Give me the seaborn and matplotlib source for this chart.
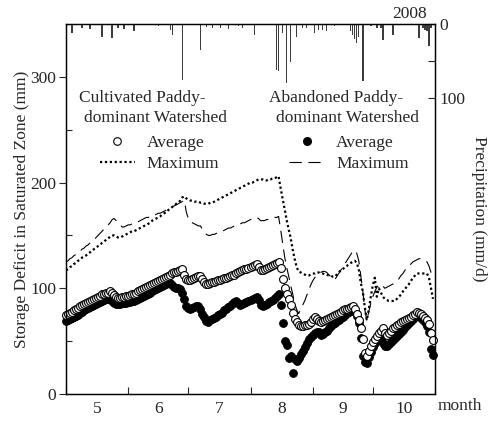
import numpy as np
import pandas as pd
import matplotlib
matplotlib.use("Agg")
import matplotlib.pyplot as plt
import seaborn as sns
from matplotlib.lines import Line2D
from matplotlib.ticker import FixedLocator, FixedFormatter, NullFormatter

# ---------------- data (day 0 = 1 May 2008, daily to 31 Oct) ----------------
cult_avg = [75, 76, 77, 78, 79, 80, 81, 83, 84, 85,
            86, 87, 88, 89, 90, 91, 92, 93, 95, 95,
            96, 96, 97, 96, 94, 92, 91, 91, 92, 92,
            93, 93, 94, 95, 95, 96, 97, 98, 99, 100,
            101, 102, 103, 104, 105, 106, 107, 108, 109, 110,
            111, 112, 113, 114, 115, 115, 116, 117, 118, 113,
            109, 108, 108, 109, 110, 111, 112, 112, 109, 106,
            104, 104, 105, 106, 106, 107, 108, 108, 109, 110,
            110, 111, 112, 113, 113, 114, 115, 116, 117, 118,
            118, 119, 120, 121, 122, 123, 120, 117, 117, 118,
            119, 120, 121, 122, 123, 124, 125, 119, 109, 100,
            95, 90, 84, 77, 71, 68, 65, 64, 64, 65,
            65, 66, 68, 71, 73, 71, 69, 68, 69, 70,
            71, 72, 73, 74, 75, 76, 77, 78, 79, 80,
            80, 81, 82, 83, 80, 76, 70, 62, 52, 39,
            36, 41, 45, 49, 52, 55, 58, 60, 62, 58,
            56, 58, 60, 62, 63, 65, 66, 68, 69, 70,
            71, 72, 73, 75, 76, 78, 77, 76, 74, 72,
            70, 66, 58, 51]

aban_avg = [69, 70, 71, 72, 73, 74, 75, 77, 78, 79,
            80, 81, 82, 83, 84, 85, 86, 87, 88, 89,
            90, 90, 90, 88, 86, 85, 85, 85, 86, 86,
            86, 87, 87, 88, 88, 89, 90, 91, 92, 93,
            94, 95, 96, 97, 98, 99, 100, 101, 102, 103,
            104, 106, 105, 103, 101, 100, 100, 99, 96, 90,
            83, 81, 80, 81, 82, 83, 83, 80, 76, 73,
            69, 68, 70, 71, 72, 73, 75, 76, 77, 79,
            80, 82, 83, 85, 87, 88, 86, 84, 85, 86,
            87, 88, 89, 90, 91, 92, 89, 84, 83, 84,
            85, 87, 88, 89, 91, 93, 95, 84, 67, 50,
            46, 34, 36, 20, 33, 31, 34, 38, 41, 44,
            48, 52, 54, 56, 58, 59, 59, 56, 57, 59,
            60, 62, 64, 66, 67, 69, 70, 72, 73, 75,
            77, 78, 80, 81, 78, 74, 67, 53, 36, 30,
            29, 35, 40, 44, 48, 52, 56, 52, 48, 45,
            45, 47, 49, 51, 53, 55, 57, 59, 61, 63,
            65, 67, 69, 71, 73, 75, 74, 72, 70, 68,
            64, 59, 43, 37]

cult_max = [117, 118, 120, 121, 123, 124, 126, 127, 129, 130,
            131, 133, 134, 136, 137, 138, 140, 141, 143, 144,
            146, 147, 149, 150, 150, 149, 148, 148, 149, 150,
            151, 152, 153, 154, 154, 155, 156, 157, 158, 159,
            160, 161, 162, 164, 165, 166, 167, 168, 170, 171,
            172, 174, 175, 177, 178, 180, 181, 183, 186, 187,
            185, 184, 183, 183, 182, 182, 182, 181, 181, 180,
            180, 180, 181, 181, 182, 183, 184, 185, 186, 187,
            188, 189, 190, 191, 192, 193, 194, 195, 196, 197,
            198, 199, 200, 200, 201, 202, 203, 203, 203, 202,
            202, 203, 203, 204, 204, 205, 206, 195, 185, 175,
            165, 156, 148, 137, 128, 120, 116, 115, 114, 113,
            112, 112, 113, 114, 114, 115, 115, 114, 114, 113,
            113, 112, 112, 111, 111, 113, 115, 117, 118, 120,
            121, 123, 124, 125, 126, 124, 118, 105, 97, 82,
            70, 80, 92, 103, 110, 92, 100, 96, 92, 90,
            89, 88, 88, 88, 88, 90, 92, 94, 97, 99,
            102, 104, 107, 110, 112, 114, 114, 114, 114, 114,
            114, 110, 100, 90]

aban_max = [125, 126, 128, 129, 131, 132, 134, 135, 137, 138,
            140, 141, 143, 145, 146, 148, 150, 152, 154, 156,
            158, 160, 162, 165, 166, 164, 162, 160, 158, 158,
            159, 160, 160, 161, 162, 163, 163, 164, 165, 166,
            167, 167, 168, 168, 169, 170, 171, 171, 172, 173,
            174, 175, 176, 177, 178, 179, 180, 181, 182, 183,
            172, 166, 163, 162, 161, 160, 159, 159, 156, 153,
            151, 150, 150, 151, 151, 152, 153, 153, 154, 155,
            156, 157, 157, 158, 159, 159, 160, 161, 162, 162,
            163, 164, 165, 166, 167, 167, 166, 164, 164, 164,
            165, 165, 166, 166, 167, 167, 168, 156, 143, 130,
            120, 112, 103, 95, 86, 80, 76, 80, 84, 88,
            93, 98, 103, 107, 110, 112, 114, 115, 116, 116,
            115, 113, 111, 109, 108, 111, 114, 117, 120, 123,
            126, 129, 132, 135, 136, 133, 126, 112, 97, 80,
            69, 78, 86, 92, 97, 101, 103, 104, 102, 100,
            101, 102, 103, 104, 106, 107, 109, 112, 114, 117,
            119, 121, 123, 125, 126, 127, 128, 128, 127, 126,
            125, 121, 115, 109]

precip_day = [3, 8, 12, 18, 23, 26, 29, 34, 46, 52, 53, 58, 67, 70, 73, 77, 81,
              86, 88, 94, 105, 106, 108, 110, 112, 115, 118, 120, 124, 126, 128,
              130, 134, 142, 143, 144, 145, 146, 148, 152, 155, 157, 158, 163,
              176, 178, 179, 180, 181, 182]
precip_mm = [12, 5, 7, 18, 19, 5, 7, 10, 3, 8, 15, 76, 35, 4, 5, 5, 7,
             3, 5, 15, 62, 63, 12, 80, 51, 17, 5, 6, 12, 8, 8,
             10, 3, 10, 15, 20, 25, 18, 77, 3, 5, 6, 22, 15,
             19, 5, 8, 10, 30, 6]

month_labels = ["5", "6", "7", "8", "9", "10"]
month_starts = [0, 31, 61, 92, 123, 153, 184]

days = np.arange(len(cult_avg))
df = pd.DataFrame({"day": days, "cult_avg": cult_avg, "aban_avg": aban_avg,
                   "cult_max": cult_max, "aban_max": aban_max})
pr = pd.DataFrame({"day": precip_day, "mm": precip_mm})

# ---------------- style ----------------
sns.set_theme(style="white")
plt.rcParams["font.family"] = ["Liberation Serif", "DejaVu Serif"]
FS = 12.5

fig = plt.figure(figsize=(4.94, 4.21), dpi=100)
ax = fig.add_axes([66 / 494, 27 / 421, 369 / 494, 370 / 421])

sns.lineplot(data=df, x="day", y="cult_max", ax=ax, color="black",
             linestyle=(0, (1, 1.2)), linewidth=1.6)
sns.lineplot(data=df, x="day", y="aban_max", ax=ax, color="black",
             linestyle=(0, (11, 6)), linewidth=0.8)
sns.scatterplot(data=df, x="day", y="aban_avg", ax=ax, color="black",
                edgecolor="black", s=32, linewidth=0.6, clip_on=False, zorder=3)
sns.scatterplot(data=df, x="day", y="cult_avg", ax=ax, color="white",
                edgecolor="black", s=32, linewidth=0.8, clip_on=False, zorder=4)

ax.set_xlim(0, 184)
ax.set_ylim(0, 350)
ax.set_xlabel("")
ax.set_ylabel("Storage Deficit in Saturated Zone (mm)", fontsize=FS, labelpad=0)

# x ticks: month boundaries (inward), labels centred in months
ax.xaxis.set_major_locator(FixedLocator(month_starts))
ax.xaxis.set_major_formatter(NullFormatter())
mids = [(month_starts[i] + month_starts[i + 1]) / 2 for i in range(6)]
ax.xaxis.set_minor_locator(FixedLocator(mids))
ax.xaxis.set_minor_formatter(FixedFormatter(month_labels))
ax.tick_params(axis="x", which="major", direction="in", length=5, width=0.8,
               bottom=True, top=False)
ax.tick_params(axis="x", which="minor", length=0, pad=5, labelsize=FS,
               bottom=True)

ax.yaxis.set_major_locator(FixedLocator([0, 100, 200, 300]))
ax.yaxis.set_minor_locator(FixedLocator([50, 150, 250]))
ax.tick_params(axis="y", which="major", direction="out", length=5, width=0.8,
               labelsize=FS, pad=2, left=True)
ax.tick_params(axis="y", which="minor", direction="in", length=4, width=0.8,
               left=True)

for s in ax.spines.values():
    s.set_visible(True)
    s.set_color("black")
    s.set_linewidth(0.9)

# ---------------- precipitation (right axis, inverted) ----------------
ax2 = ax.twinx()
ax2.bar(pr["day"], pr["mm"], width=0.7, color="#3c3c3c", linewidth=0)
ax2.set_ylim(500, 0)
ax2.set_xlim(0, 184)
ax2.yaxis.set_major_locator(FixedLocator([0, 50, 100]))
ax2.yaxis.set_major_formatter(FixedFormatter(["0", "", "100"]))
ax2.tick_params(axis="y", direction="in", length=5, width=0.8, labelsize=FS,
                pad=3, right=True)
ax2.set_ylabel("Precipitation (mm/d)", fontsize=FS, rotation=270, labelpad=16)
ax2.grid(False)
ax.grid(False)
for s in ax2.spines.values():
    s.set_color("black")
    s.set_linewidth(0.9)

# ---------------- annotations ----------------
ax.text(1.006, -0.032, "month", transform=ax.transAxes, ha="left", va="center",
        fontsize=FS)
ax.text(0.978, 1.028, "2008", transform=ax.transAxes, ha="right", va="center",
        fontsize=FS)

ax.text(0.035, 0.80, "Cultivated Paddy-", transform=ax.transAxes, ha="left",
        va="center", fontsize=FS)
ax.text(0.049, 0.745, "dominant Watershed", transform=ax.transAxes, ha="left",
        va="center", fontsize=FS)
ax.text(0.551, 0.80, "Abandoned Paddy-", transform=ax.transAxes, ha="left",
        va="center", fontsize=FS)
ax.text(0.570, 0.745, "dominant Watershed", transform=ax.transAxes, ha="left",
        va="center", fontsize=FS)

h_open = Line2D([], [], marker="o", ls="none", mfc="white", mec="black",
                ms=5.5, mew=0.8)
h_dot = Line2D([], [], color="black", linestyle=(0, (1, 1.2)), linewidth=1.6)
h_fill = Line2D([], [], marker="o", ls="none", mfc="black", mec="black", ms=5.5)
h_dash = Line2D([], [], color="black", linestyle=(0, (11, 6)), linewidth=0.8)

leg_kw = dict(frameon=False, fontsize=FS, handlelength=2.0, handletextpad=0.7,
              labelspacing=0.28, borderpad=0, borderaxespad=0, loc="upper left")
leg1 = ax2.legend([h_open, h_dot], ["Average", "Maximum"],
                  bbox_to_anchor=(0.092, 0.70), **leg_kw)
ax2.add_artist(leg1)
ax2.legend([h_fill, h_dash], ["Average", "Maximum"],
           bbox_to_anchor=(0.605, 0.70), **leg_kw)

fig.savefig("out.png", dpi=100)
